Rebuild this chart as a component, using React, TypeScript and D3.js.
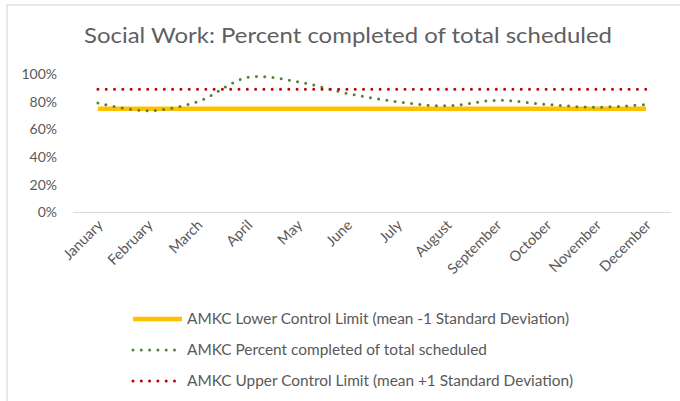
import React from "react";
import * as d3 from "d3";

const months = ["January", "February", "March", "April", "May", "June", "July", "August", "September", "October", "November", "December"];
const lowerLimit = [0.75, 0.75, 0.75, 0.75, 0.75, 0.75, 0.75, 0.75, 0.75, 0.75, 0.75, 0.75];
const percentCompleted = [0.79, 0.735, 0.8, 0.975, 0.945, 0.86, 0.8, 0.77, 0.81, 0.78, 0.76, 0.78];
const upperLimit = [0.89, 0.89, 0.89, 0.89, 0.89, 0.89, 0.89, 0.89, 0.89, 0.89, 0.89, 0.89];
const yTicks = [0, 0.2, 0.4, 0.6, 0.8, 1];

const title = "Social Work: Percent completed of total scheduled";
const legendItems = [
  { label: "AMKC Lower Control Limit (mean -1 Standard Deviation)", color: "#FFC000", dotted: false, len: 382 },
  { label: "AMKC Percent completed of total scheduled", color: "#548235", dotted: true, len: 300 },
  { label: "AMKC Upper Control Limit (mean +1 Standard Deviation)", color: "#C00000", dotted: true, len: 386 },
];

const W = 680;
const H = 401;
const textColor = "#595959";
const font = "Lato, 'Open Sans', sans-serif";

export default function App() {
  const x = d3.scaleBand<string>().domain(months).range([73, 671]);
  const y = d3.scaleLinear().domain([0, 1]).range([212.5, 74]);
  const cx = (m: string) => (x(m) as number) + x.bandwidth() / 2;

  const straight = d3.line<number>()
    .x((_, i) => cx(months[i]))
    .y(d => y(d));
  const smooth = d3.line<number>()
    .x((_, i) => cx(months[i]))
    .y(d => y(d))
    .curve(d3.curveCatmullRom.alpha(0.5));

  const dots = { strokeDasharray: "0 8.3", strokeLinecap: "round" as const };

  return (
    <div style={{ position: "fixed", left: 0, top: 0 }}>
      <svg width={W} height={H} style={{ display: "block", background: "#fff" }}>
        <rect x={7} y={5} width={W + 10} height={H + 10} fill="#fff" stroke="#d9d9d9" strokeWidth={1.2} />

        <text x={84} y={43} fontFamily={font} fontSize={20.5} fill="#5f5f5f"
          textLength={528} lengthAdjust="spacingAndGlyphs">{title}</text>

        {yTicks.map(t => (
          <text key={t} x={57} y={y(t)} dy="0.35em" textAnchor="end"
            fontFamily={font} fontSize={14} fill={textColor}>{d3.format(".0%")(t)}</text>
        ))}

        <line x1={73} x2={671} y1={y(0)} y2={y(0)} stroke="#d9d9d9" strokeWidth={1.2} />

        {months.map(m => (
          <text key={m} transform={`translate(${cx(m) + 6},${226}) rotate(-45)`}
            textAnchor="end" fontFamily={font} fontSize={14.5} fill={textColor}>{m}</text>
        ))}

        <path d={straight(lowerLimit) ?? ""} fill="none" stroke="#FFC000" strokeWidth={4.5} />
        <path d={smooth(percentCompleted) ?? ""} fill="none" stroke="#548235" strokeWidth={3} style={dots} />
        <path d={straight(upperLimit) ?? ""} fill="none" stroke="#C00000" strokeWidth={3} style={dots} />

        {legendItems.map((item, i) => {
          const ly = 319 + i * 31;
          return (
            <g key={item.label}>
              {item.dotted ? (
                <line x1={133} x2={179} y1={ly} y2={ly} stroke={item.color} strokeWidth={3} style={dots} />
              ) : (
                <line x1={133} x2={182} y1={ly} y2={ly} stroke={item.color} strokeWidth={4.5} />
              )}
              <text x={187} y={ly + 5} fontFamily={font} fontSize={15.5} fill={textColor}
                textLength={item.len} lengthAdjust="spacingAndGlyphs">{item.label}</text>
            </g>
          );
        })}
      </svg>
    </div>
  );
}
